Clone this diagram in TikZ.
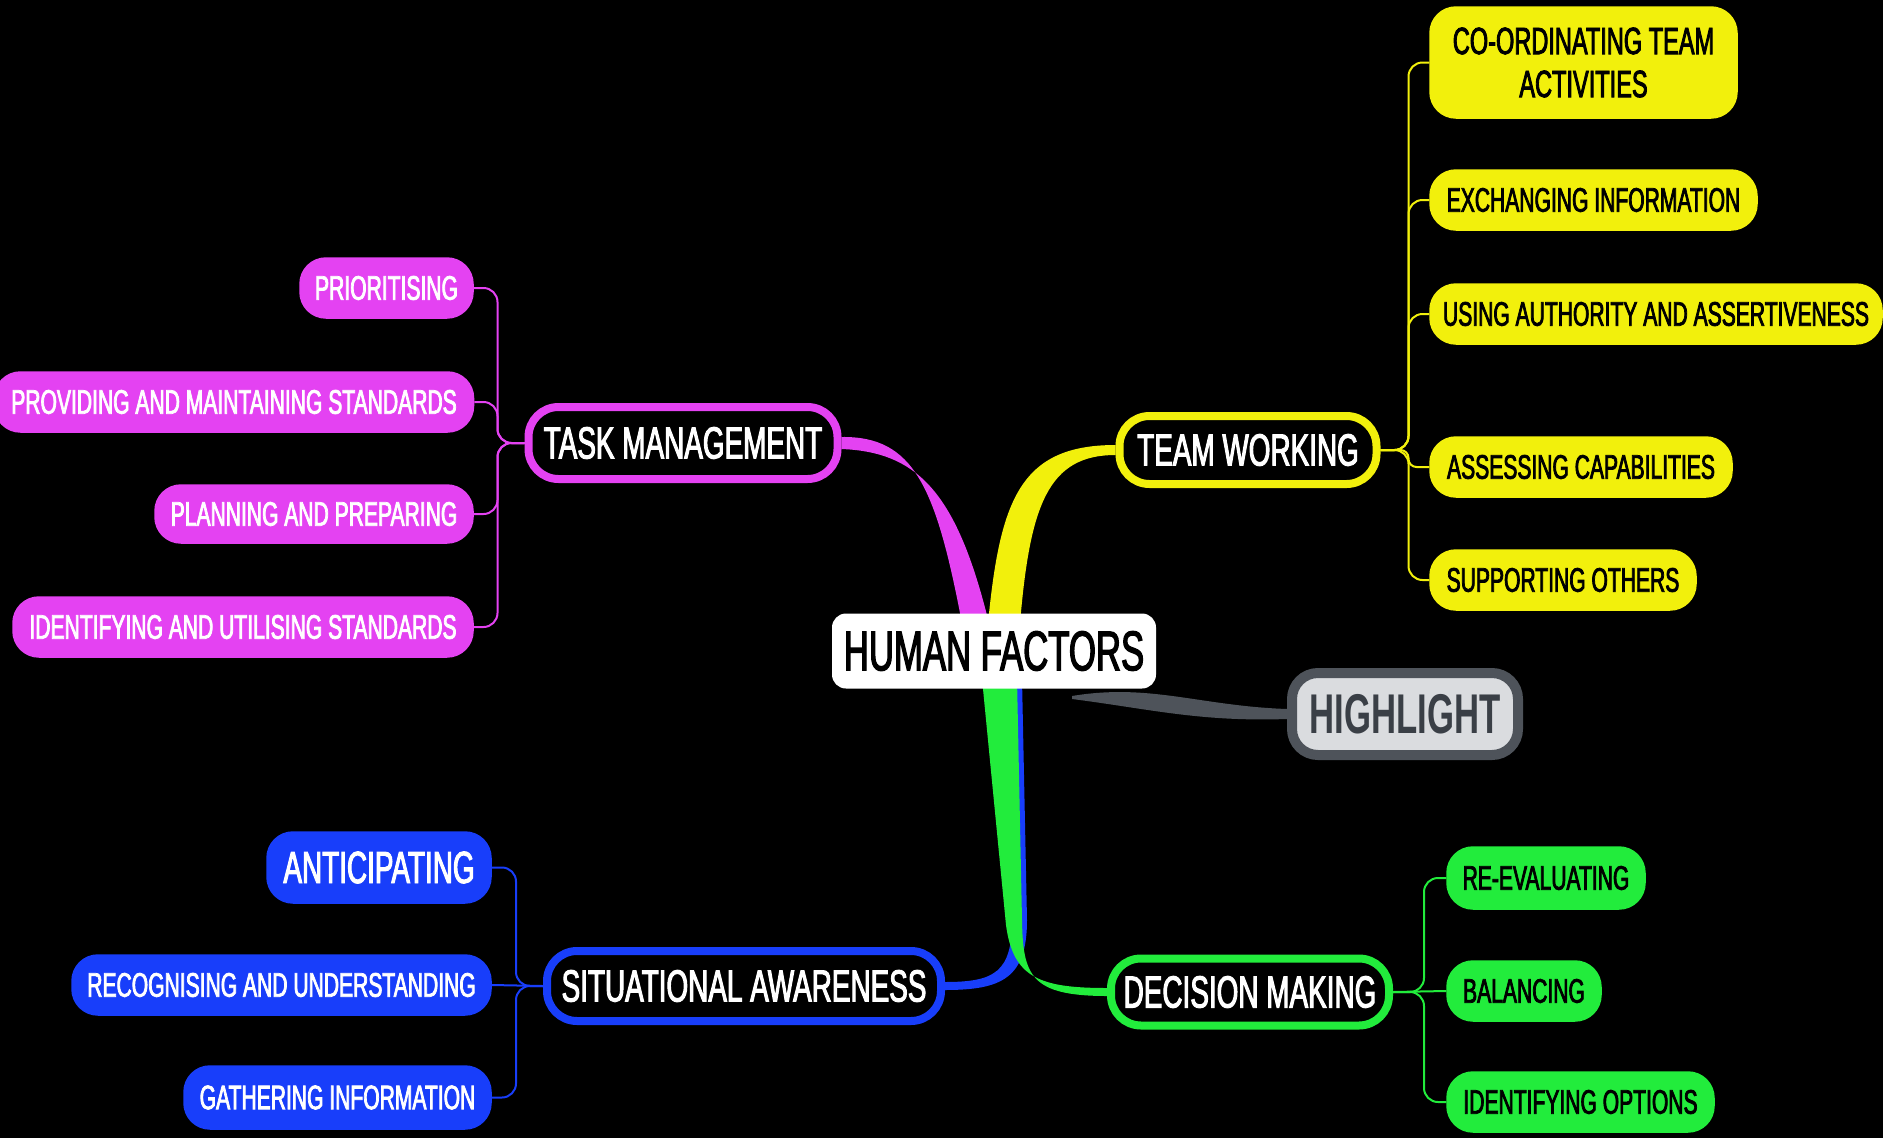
\documentclass[tikz,border=0pt]{standalone}
\usepackage{fontspec}
\newfontfamily\mmfont{Liberation Sans}[FakeStretch=0.62,FakeBold=2.2]
\newfontfamily\mmbold{Liberation Sans Bold}[FakeStretch=0.62]
\usetikzlibrary{backgrounds,calc}
\definecolor{mag}{RGB}{228,66,242}
\definecolor{yel}{RGB}{242,240,12}
\definecolor{grn}{RGB}{34,236,60}
\definecolor{blu}{RGB}{24,62,250}
\definecolor{gbd}{RGB}{78,83,90}
\definecolor{gfl}{RGB}{218,220,223}
\definecolor{gtx}{RGB}{58,63,70}
\begin{document}
\begin{tikzpicture}[x=1pt,y=-1pt,
  mainbox/.style={draw=#1, line width=8pt, fill=black, text=white, rounded corners=30pt, inner sep=0pt,
    font=\mmfont\fontsize{45}{50}\selectfont},
  subbox/.style={draw=#1, line width=1.5pt, fill=#1, rounded corners=26pt, inner sep=0pt,
    font=\mmfont\fontsize{34}{40}\selectfont},
  tcon/.style={draw=#1, line width=2pt, rounded corners=14pt},
  taper/.style={fill=#1}
]
\useasboundingbox (0,0) rectangle (1883,1138);

% centre
\node[fill=white, text=black, rounded corners=14pt, inner sep=0pt, minimum width=324pt, minimum height=75pt,
  font=\mmfont\fontsize{56}{60}\selectfont] (hf) at (994,651) {HUMAN FACTORS};
\node[draw=gbd, fill=gfl, text=gtx, line width=10pt, rounded corners=26pt, inner sep=0pt, minimum width=226pt, minimum height=82pt,
  font=\mmbold\fontsize{56}{60}\selectfont] (hl) at (1405,714) {HIGHLIGHT};

% main branches
\node[mainbox=mag, minimum width=309pt, minimum height=72pt] (tm) at (683,443) {TASK MANAGEMENT};
\node[mainbox=yel, minimum width=257pt, minimum height=68pt] (tw) at (1248,450) {TEAM WORKING};
\node[mainbox=blu, minimum width=394pt, minimum height=70pt] (sa) at (744,986) {SITUATIONAL AWARENESS};
\node[mainbox=grn, minimum width=278pt, minimum height=67pt] (dm) at (1250,992) {DECISION MAKING};

% team working
\node[subbox=yel, text=black, minimum width=307pt, minimum height=111pt, align=center,
  font=\mmfont\fontsize{38}{43}\selectfont] (y1) at (1583.5,62.5) {CO-ORDINATING TEAM\\ACTIVITIES};
\node[subbox=yel, text=black, minimum width=327pt, minimum height=60pt] (y2) at (1593.5,200) {EXCHANGING INFORMATION};
\node[subbox=yel, text=black, minimum width=452pt, minimum height=60pt] (y3) at (1656,314) {USING AUTHORITY AND ASSERTIVENESS};
\node[subbox=yel, text=black, minimum width=302pt, minimum height=60pt] (y4) at (1581,467) {ASSESSING CAPABILITIES};
\node[subbox=yel, text=black, minimum width=266pt, minimum height=60pt] (y5) at (1563,580) {SUPPORTING OTHERS};

% task management
\node[subbox=mag, text=white, minimum width=173pt, minimum height=60pt] (m1) at (386.5,288) {PRIORITISING};
\node[subbox=mag, text=white, minimum width=479pt, minimum height=60pt] (m2) at (234,402) {PROVIDING AND MAINTAINING STANDARDS};
\node[subbox=mag, text=white, minimum width=318pt, minimum height=58pt] (m3) at (314,514) {PLANNING AND PREPARING};
\node[subbox=mag, text=white, minimum width=460pt, minimum height=60pt] (m4) at (243,627) {IDENTIFYING AND UTILISING STANDARDS};

% situational awareness
\node[subbox=blu, text=white, minimum width=224pt, minimum height=71pt,
  font=\mmfont\fontsize{45}{50}\selectfont] (b1) at (379,867.5) {ANTICIPATING};
\node[subbox=blu, text=white, minimum width=419pt, minimum height=60pt] (b2) at (281.5,985) {RECOGNISING AND UNDERSTANDING};
\node[subbox=blu, text=white, minimum width=307pt, minimum height=63pt] (b3) at (337.5,1097.5) {GATHERING INFORMATION};

% decision making
\node[subbox=grn, text=black, minimum width=198pt, minimum height=62pt] (g1) at (1546,878) {RE-EVALUATING};
\node[subbox=grn, text=black, minimum width=154pt, minimum height=60pt] (g2) at (1524,991) {BALANCING};
\node[subbox=grn, text=black, minimum width=267pt, minimum height=60pt] (g3) at (1580.5,1102) {IDENTIFYING OPTIONS};

\begin{scope}[on background layer]
\fill[black] (0,0) rectangle (1883,1138);
% tapered main connectors
\fill[taper=mag] ($(hf.north)+(-32,10)$) .. controls (936,487) and (914,436) .. ($(tm.east)+(0,-6)$)
  -- ($(tm.east)+(0,6)$) .. controls (918,452) and (957,493) .. ($(hf.north)+(-5,10)$) -- cycle;
\fill[taper=yel] ($(hf.north)+(-6,10)$) .. controls (1000,500) and (1020,445) .. ($(tw.west)+(0,-5)$)
  -- ($(tw.west)+(0,5)$) .. controls (1048,455) and (1030,505) .. ($(hf.north)+(26,10)$) -- cycle;
\fill[taper=blu] ($(hf.south)+(12,-10)$) -- (1012,920) .. controls (1012,972) and (995,982) .. ($(sa.east)+(0,-4)$)
  -- ($(sa.east)+(0,4)$) .. controls (1002,990) and (1027,978) .. (1027,920) -- ($(hf.south)+(28,-10)$) -- cycle;
\fill[taper=grn] ($(hf.south)+(-12,-10)$) -- (1006,925) .. controls (1013,978) and (1040,988) .. ($(dm.west)+(0,-4)$)
  -- ($(dm.west)+(0,4)$) .. controls (1030,996) and (1023,975) .. (1022,920) -- ($(hf.south)+(23,-10)$) -- cycle;
\fill[taper=gbd] (1072,696) .. controls (1150,683) and (1200,706) .. ($(hl.west)+(0,-5)$)
  -- ($(hl.west)+(0,5)$) .. controls (1200,722) and (1150,709) .. (1072,699) -- cycle;
% thin connectors
\draw[tcon=yel] (tw.east) -- ++(28,0) |- (y1.west);
\draw[tcon=yel] (tw.east) -- ++(28,0) |- (y2.west);
\draw[tcon=yel] (tw.east) -- ++(28,0) |- (y3.west);
\draw[tcon=yel, rounded corners=8pt] (tw.east) -- ++(28,0) |- (y4.west);
\draw[tcon=yel] (tw.east) -- ++(28,0) |- (y5.west);
\draw[tcon=mag] (tm.west) -- ++(-27,0) |- (m1.east);
\draw[tcon=mag] (tm.west) -- ++(-27,0) |- (m2.east);
\draw[tcon=mag] (tm.west) -- ++(-27,0) |- (m3.east);
\draw[tcon=mag] (tm.west) -- ++(-27,0) |- (m4.east);
\draw[tcon=blu] (sa.west) -- ++(-27,0) |- (b1.east);
\draw[tcon=blu] (sa.west) -- (b2.east);
\draw[tcon=blu] (sa.west) -- ++(-27,0) |- (b3.east);
\draw[tcon=grn] (dm.east) -- ++(31,0) |- (g1.west);
\draw[tcon=grn] (dm.east) -- (g2.west);
\draw[tcon=grn] (dm.east) -- ++(31,0) |- (g3.west);
\end{scope}
\end{tikzpicture}
\end{document}
